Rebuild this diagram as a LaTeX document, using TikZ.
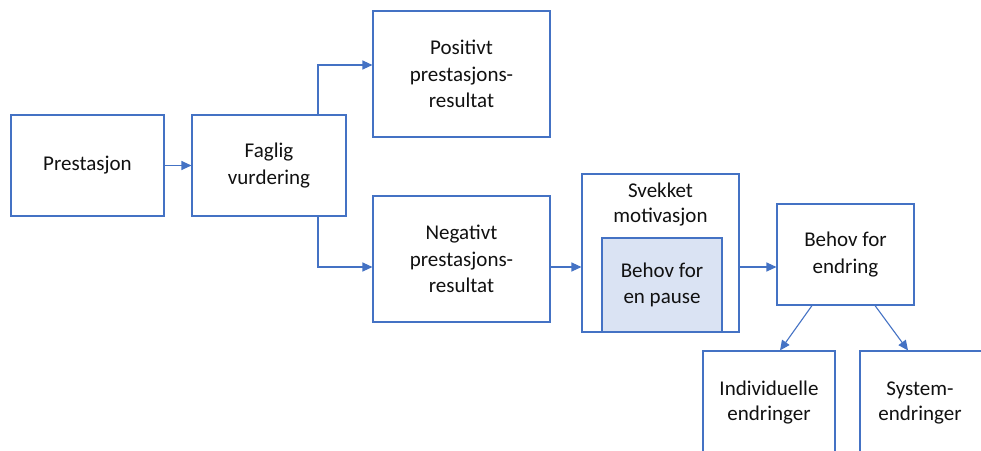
\documentclass[tikz,border=0pt]{standalone}
\usepackage{fontspec}
\setmainfont{Carlito}
\usetikzlibrary{arrows.meta,calc}
\definecolor{lineblue}{HTML}{4472C4}
\definecolor{fillblue}{HTML}{DAE3F3}
\definecolor{txt}{HTML}{111111}
\begin{document}
\begin{tikzpicture}[x=1pt,y=-1pt,
  box/.style={draw=lineblue,line width=1.1pt,fill=white,inner sep=0pt,align=center,
    text=txt,font=\fontsize{21}{26.5}\selectfont},
  arr/.style={draw=lineblue,line width=1.1pt,-{Triangle[length=10pt,width=9pt]}},
  lbl/.style={text=txt,align=center,font=\fontsize{21}{25}\selectfont,inner sep=0pt}]
\useasboundingbox (0,0) rectangle (981,450);
\clip (0,0) rectangle (981,450);
% boxes
\node[box,minimum width=153pt,minimum height=101pt] (pre) at (87.5,165.5) {Prestasjon};
\node[box,minimum width=154pt,minimum height=101pt] (fag) at (269,165.5) {Faglig\\vurdering};
\node[box,minimum width=177pt,minimum height=126pt] (pos) at (461.5,74) {Positivt\\prestasjons-\\resultat};
\node[box,minimum width=177pt,minimum height=126pt] (neg) at (461.5,259) {Negativt\\prestasjons-\\resultat};
\node[box,minimum width=157pt,minimum height=158pt] (svk) at (660.5,253) {};
\node[box,fill=fillblue,minimum width=120pt,minimum height=94pt] (pau) at (662,285) {Behov for\\en pause};
\node[lbl] (svt) at (660.5,205) {Svekket\\motivasjon};
\node[box,minimum width=137pt,minimum height=101pt] (end) at (845.5,254.5) {Behov for\\endring};
\node[box,minimum width=132pt,minimum height=120pt] (ind) at (769,411) {};
\node[lbl] (indt) at (769,403) {Individuelle\\endringer};
\node[box,minimum width=140pt,minimum height=120pt] (sys) at (930,411) {};
\node[lbl] (syst) at (920,403) {System-\\endringer};
% helper line
\coordinate (yl) at (0,267);
% connectors
\draw[arr] (pre.east) -- (fag.west);
\draw[arr] ([xshift=49pt]fag.north) |- ([yshift=9pt]pos.west);
\draw[arr] ([xshift=49pt]fag.south) |- (neg.west |- yl);
\draw[arr] (neg.east |- yl) -- (svk.west |- yl);
\draw[arr] (svk.east |- yl) -- (end.west |- yl);
\draw[arr] ([xshift=-33.5pt]end.south) -- ([xshift=11pt]ind.north);
\draw[arr] ([xshift=29.5pt]end.south) -- ([xshift=-22pt]sys.north);
\end{tikzpicture}
\end{document}
